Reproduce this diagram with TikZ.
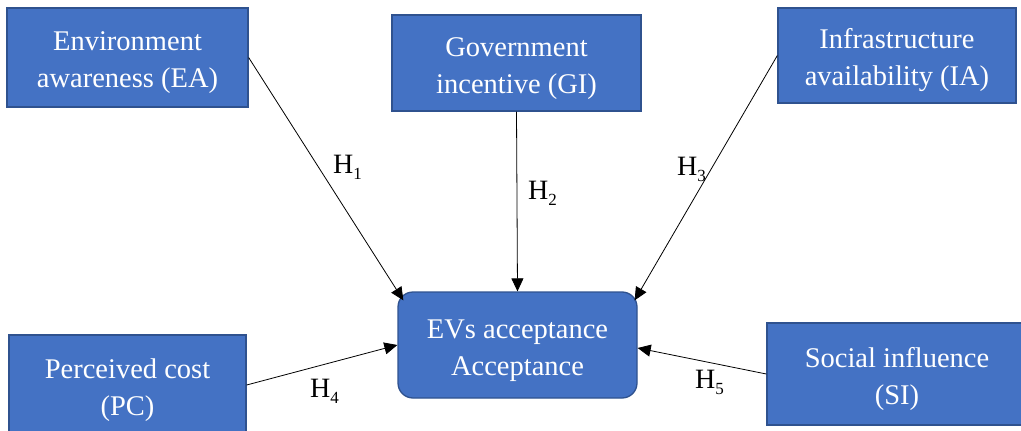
\documentclass[tikz,border=0pt]{standalone}
\usepackage{fontspec}
\setmainfont{Liberation Serif}
\usetikzlibrary{arrows.meta,calc}
\newcommand\Hlab[1]{H\raisebox{-6pt}{\fontsize{17}{17}\selectfont #1}}
\newcommand\topstrut{\rule{0pt}{30pt}}
\begin{document}
\begin{tikzpicture}[x=1pt,y=-1pt,
  box/.style={draw=boxedge,fill=boxfill,line width=1.3pt,text=white,align=center,
    inner sep=0pt,font=\fontsize{28.5}{37}\selectfont},
  link/.style={line width=0.8pt,-{Triangle[length=13pt,width=12pt]}},
  hyp/.style={inner sep=0pt,anchor=base west,font=\fontsize{28}{30}\selectfont}]
\definecolor{boxfill}{HTML}{4472C4}
\definecolor{boxedge}{HTML}{2F528F}
\useasboundingbox (0,0) rectangle (1021,431);
\clip (0,0) rectangle (1021,431);
\node[box,minimum width=241pt,minimum height=99pt] (EA) at (127.5,57.5) {\topstrut Environment\\awareness (EA)};
\node[box,minimum width=249pt,minimum height=96pt] (GI) at (516.5,63) {\topstrut Government\\incentive (GI)};
\node[box,minimum width=238pt,minimum height=95pt] (IA) at (897,55.5) {\topstrut Infrastructure\\availability (IA)};
\node[box,rounded corners=15pt,minimum width=239pt,minimum height=106pt] (EV) at (517.5,345) {\topstrut EVs acceptance\\Acceptance};
\node[box,minimum width=237pt,minimum height=100pt] (PC) at (127.5,385) {\topstrut Perceived cost\\(PC)};
\node[box,minimum width=260pt,minimum height=102pt] (SI) at (897,374) {\topstrut Social influence\\(SI)};
\draw[link] (EA.east) -- ($(EV.north west)+(6,9)$);
\draw[link] (GI.south) -- (EV.north);
\draw[link] (IA.west) -- ($(EV.north east)+(-3,9)$);
\draw[link] (PC.east) -- (EV.west);
\draw[link] (SI.west) -- ($(EV.east)+(0,3)$);
\node[hyp] (h1) at (333,173) {\Hlab{1}};
\node[hyp] (h2) at (528,199) {\Hlab{2}};
\node[hyp] (h3) at (677,175) {\Hlab{3}};
\node[hyp] (h4) at (310,397) {\Hlab{4}};
\node[hyp] (h5) at (695,388) {\Hlab{5}};
\end{tikzpicture}
\end{document}
